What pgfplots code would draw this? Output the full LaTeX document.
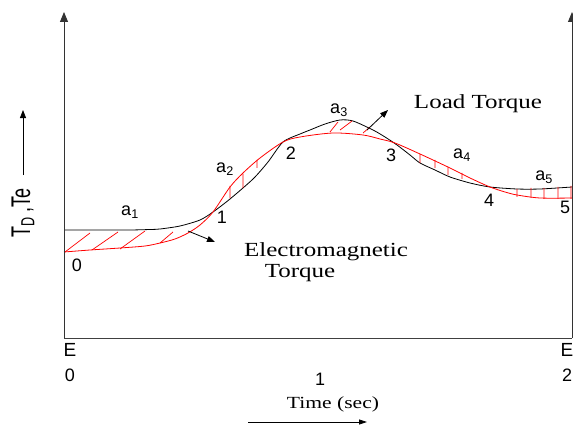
\documentclass[border=0pt]{standalone}
\usepackage{fontspec}
\setmainfont{Liberation Sans}
\newfontfamily\tnr{Liberation Serif}
\usepackage{pgfplots}
\pgfplotsset{compat=1.18}
\usetikzlibrary{arrows.meta}
\begin{document}
\begin{tikzpicture}[x=1bp,y=1bp]
\path[use as bounding box] (0,0) rectangle (573,425);
\begin{axis}[at={(64bp,87bp)}, anchor=south west, scale only axis,
  width=508bp, height=326bp, xmin=0, xmax=2, ymin=0, ymax=326,
  axis lines=none, clip=false]
% Load torque (black)
\addplot[black, line width=0.8bp, smooth, tension=0.45] coordinates {
(0,108) (0.1417,108) (0.2598,108) (0.3386,108.5) (0.3780,109) (0.4567,112)
(0.5354,118) (0.5866,126) (0.6535,139) (0.7441,159) (0.8031,176) (0.8622,196)
(0.9291,204) (0.9685,208) (1.0276,214) (1.0866,218) (1.1378,217) (1.2165,208)
(1.2638,201) (1.3110,193) (1.3622,183) (1.4016,175) (1.4606,168) (1.5197,161)
(1.5984,155) (1.6772,151) (1.7835,149) (1.8740,149) (2.0,151)};
% Electromagnetic torque (red)
\addplot[red, line width=0.8bp, smooth, tension=0.5] coordinates {
(0,86) (0.1024,88) (0.2205,90) (0.3189,92) (0.3780,95) (0.4370,99) (0.4882,105)
(0.5354,113) (0.5866,126) (0.6535,151) (0.7047,165) (0.7717,180) (0.8622,196)
(0.9291,201) (1.0591,205) (1.1772,203) (1.2441,199) (1.3031,195) (1.4016,184)
(1.5197,170) (1.5984,160) (1.6772,151) (1.7362,146) (1.7835,143) (1.8740,140)
(2.0,140)};
% hatching
\addplot[red, line width=0.7bp, unbounded coords=jump] coordinates {
(0.0039,86) (0.1024,105) (0.1,nan)
(0.1102,88) (0.2126,106) (0.2,nan)
(0.2205,89) (0.3189,107) (0.3,nan)
(0.3780,95) (0.4291,106) (0.4,nan)
(0.6535,152) (0.6535,140) (0.6,nan)
(0.7047,164) (0.7047,150) (0.7,nan)
(0.7598,178) (0.7598,170) (0.7,nan)
(1.0472,206) (1.0787,216) (1.0,nan)
(1.0866,208) (1.1339,217) (1.1,nan)
(1.1772,205) (1.2047,211) (1.2,nan)
(1.4016,184) (1.4016,175) (1.4,nan)
(1.4606,178) (1.4606,170) (1.4,nan)
(1.5118,171) (1.5118,163) (1.5,nan)
(1.5669,165) (1.5669,159) (1.5,nan)
(1.7835,149) (1.7835,141) (1.7,nan)
(1.8386,150) (1.8386,140) (1.8,nan)
(1.8898,150) (1.8898,139) (1.8,nan)
(1.9449,151) (1.9449,139) (1.9,nan)
(1.996,152) (1.996,139)};
\end{axis}
% frame
\draw[black!75, line width=0.9bp] (64,87) -- (572,87);
\draw[black!80, line width=0.9bp, -{Triangle[width=8bp,length=10bp]}] (64,87) -- (64,413);
\draw[black!80, line width=0.9bp, -{Triangle[width=8bp,length=10bp]}] (572,87) -- (572,413);
% annotation arrows
\draw[black, line width=0.8bp, -{Triangle[width=6bp,length=8bp]}] (188,194) -- (215,183);
\draw[black, line width=0.8bp, -{Triangle[width=6bp,length=8bp]}] (367,295) -- (388,315);
% y label
\node[rotate=90, font=\fontsize{18bp}{20bp}\selectfont] at (23,212) {\scalebox{1}[1.5]{T\textsubscript{D} ,Te}};
\draw[black, line width=0.8bp, -{Triangle[width=6bp,length=8bp]}] (23,250) -- (23,315);
% tick labels
\node[font=\fontsize{19bp}{20bp}\selectfont] at (70,75) {E};
\node[font=\fontsize{18bp}{20bp}\selectfont] at (70,50) {0};
\node[font=\fontsize{18bp}{20bp}\selectfont] at (320,46) {1};
\node[font=\fontsize{19bp}{20bp}\selectfont] at (567,75) {E};
\node[font=\fontsize{18bp}{20bp}\selectfont] at (567,50) {2};
% x label
\node[font=\tnr\fontsize{17bp}{20bp}\selectfont] at (333,21) {\scalebox{1.27}[1]{Time (sec)}};
\draw[black, line width=0.8bp, -{Triangle[width=5bp,length=8bp]}] (248,3) -- (367,3);
% point labels
\begin{scope}[every node/.style={font=\fontsize{18bp}{20bp}\selectfont}]
\node at (77,160) {0};
\node at (222,208) {1};
\node at (291,272) {2};
\node at (391,270) {3};
\node at (489,225) {4};
\node at (565,218) {5};
\node at (130,213) {a\textsubscript{1}};
\node at (225,256) {a\textsubscript{2}};
\node at (339,315) {a\textsubscript{3}};
\node at (462,270) {a\textsubscript{4}};
\node at (544,248) {a\textsubscript{5}};
\end{scope}
\begin{scope}[every node/.style={font=\tnr\fontsize{20bp}{22bp}\selectfont}]
\node at (326,173) {\scalebox{1.25}[1]{Electromagnetic}};
\node at (300,152) {\scalebox{1.25}[1]{Torque}};
\node at (478,321) {\scalebox{1.25}[1]{Load Torque}};
\end{scope}
\end{tikzpicture}
\end{document}
